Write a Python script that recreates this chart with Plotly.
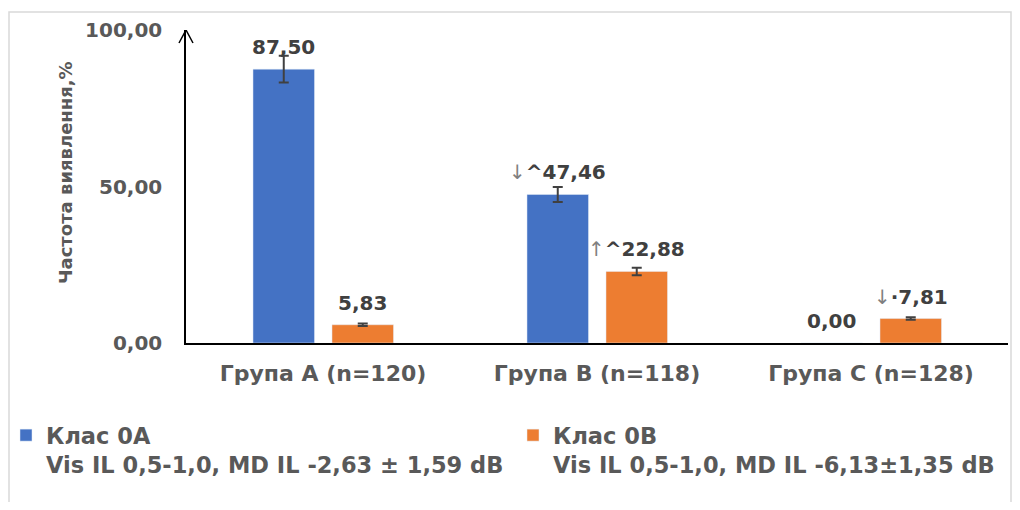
import plotly.graph_objects as go

categories = ["Група A (n=120)", "Група B (n=118)", "Група C (n=128)"]
class_a = [87.50, 47.46, 0.00]
class_b = [5.83, 22.88, 7.81]
err_a = [4.3, 2.4, "NaN"]   # no error bar drawn for the empty bar
err_b = [0.4, 1.2, 0.4]
labels_a = ["87,50", "<span style='font-weight:normal;color:#7f7f7f'>↓</span>^47,46", "0,00"]
labels_b = ["5,83", "<span style='font-weight:normal;color:#7f7f7f'>↑</span>^22,88",
            "<span style='font-weight:normal;color:#7f7f7f'>↓</span>·7,81"]
name_a = "Клас 0A<br>Vis IL 0,5-1,0, MD IL -2,63 ± 1,59 dB"
name_b = "Клас 0B<br>Vis IL 0,5-1,0, MD IL -6,13±1,35 dB"
y_title = "Частота виявлення,%"
ytick_vals = [0, 50, 100]
ytick_text = ["0,00", "50,00", "100,00"]

BLUE = "#4472C4"
ORANGE = "#ED7D31"
FONT = "DejaVu Sans"

# page has an 8px body margin; figure pixel = screen pixel - 8
W, H = 1004, 494
L, R, T, B = 178, 4, 22, 159
pw, ph = W - L - R, H - T - B

def px(x):
    return (x - L) / pw

def py(y):
    return (H - B - y) / ph

BAR_W = 0.2245
OFF_A, OFF_B = -0.2555, 0.0328
cat_px = pw / len(categories)

fig = go.Figure()
fig.add_trace(go.Bar(
    x=categories, y=class_a, name=name_a, marker_color=BLUE,
    width=BAR_W, offset=OFF_A, legend="legend",
    error_y=dict(type="data", array=err_a, color="#404040", thickness=2, width=5),
    cliponaxis=False,
))
fig.add_trace(go.Bar(
    x=categories, y=class_b, name=name_b, marker_color=ORANGE,
    width=BAR_W, offset=OFF_B, legend="legend2",
    error_y=dict(type="data", array=err_b, color="#404040", thickness=2, width=5),
    cliponaxis=False,
))

annotations = []
for vals, labs, off in ((class_a, labels_a, OFF_A), (class_b, labels_b, OFF_B)):
    shift = (off + BAR_W / 2) * cat_px
    for c, v, t in zip(categories, vals, labs):
        annotations.append(dict(
            x=c, y=v, xref="x", yref="y", text=t, showarrow=False,
            xshift=shift, yshift=22, xanchor="center", yanchor="middle",
            font=dict(family=FONT, size=20, color="#404040", weight="bold"),
        ))

annotations.append(dict(
    x=px(57), y=py(165), xref="paper", yref="paper", text=y_title,
    textangle=-90, showarrow=False, xanchor="center", yanchor="middle",
    font=dict(family=FONT, size=18, color="#595959", weight="bold"),
))

legend_common = dict(
    orientation="h", xanchor="left", yanchor="top", valign="top",
    font=dict(family=FONT, size=22.5, color="#595959", weight="bold"),
    itemclick=False, itemdoubleclick=False, bgcolor="rgba(0,0,0,0)",
)

fig.update_layout(
    width=W, height=H,
    margin=dict(l=L, r=R, t=T, b=B, autoexpand=False),
    barmode="overlay",
    plot_bgcolor="white", paper_bgcolor="white",
    font=dict(family=FONT, color="#595959", weight="bold"),
    showlegend=True,
    legend=dict(x=px(-2), y=py(406), **legend_common),
    legend2=dict(x=px(505), y=py(406), **legend_common),
    xaxis=dict(
        showline=True, linecolor="black", linewidth=1.5, showgrid=False,
        ticks="", ticklabelstandoff=10,
        tickfont=dict(family=FONT, size=22, color="#595959", weight="bold"),
    ),
    yaxis=dict(
        range=[0, 100], showline=True, linecolor="black", linewidth=1.5,
        showgrid=False, zeroline=False, ticks="",
        tickvals=ytick_vals, ticktext=ytick_text, ticklabelstandoff=18,
        tickfont=dict(family=FONT, size=20, color="#595959", weight="bold"),
    ),
    annotations=annotations,
    shapes=[
        dict(type="rect", xref="paper", yref="paper",
             x0=px(1), x1=px(1003), y0=py(505), y1=py(4),
             line=dict(color="#d9d9d9", width=1.5), fillcolor="rgba(0,0,0,0)", layer="below"),
        dict(type="path", xref="x domain", yref="y",
             xsizemode="pixel", ysizemode="pixel", xanchor=0, yanchor=100,
             path="M-7,-13 L0,0 L7,-13", line=dict(color="black", width=1.5)),
    ],
)

fig.write_html("out.html")
